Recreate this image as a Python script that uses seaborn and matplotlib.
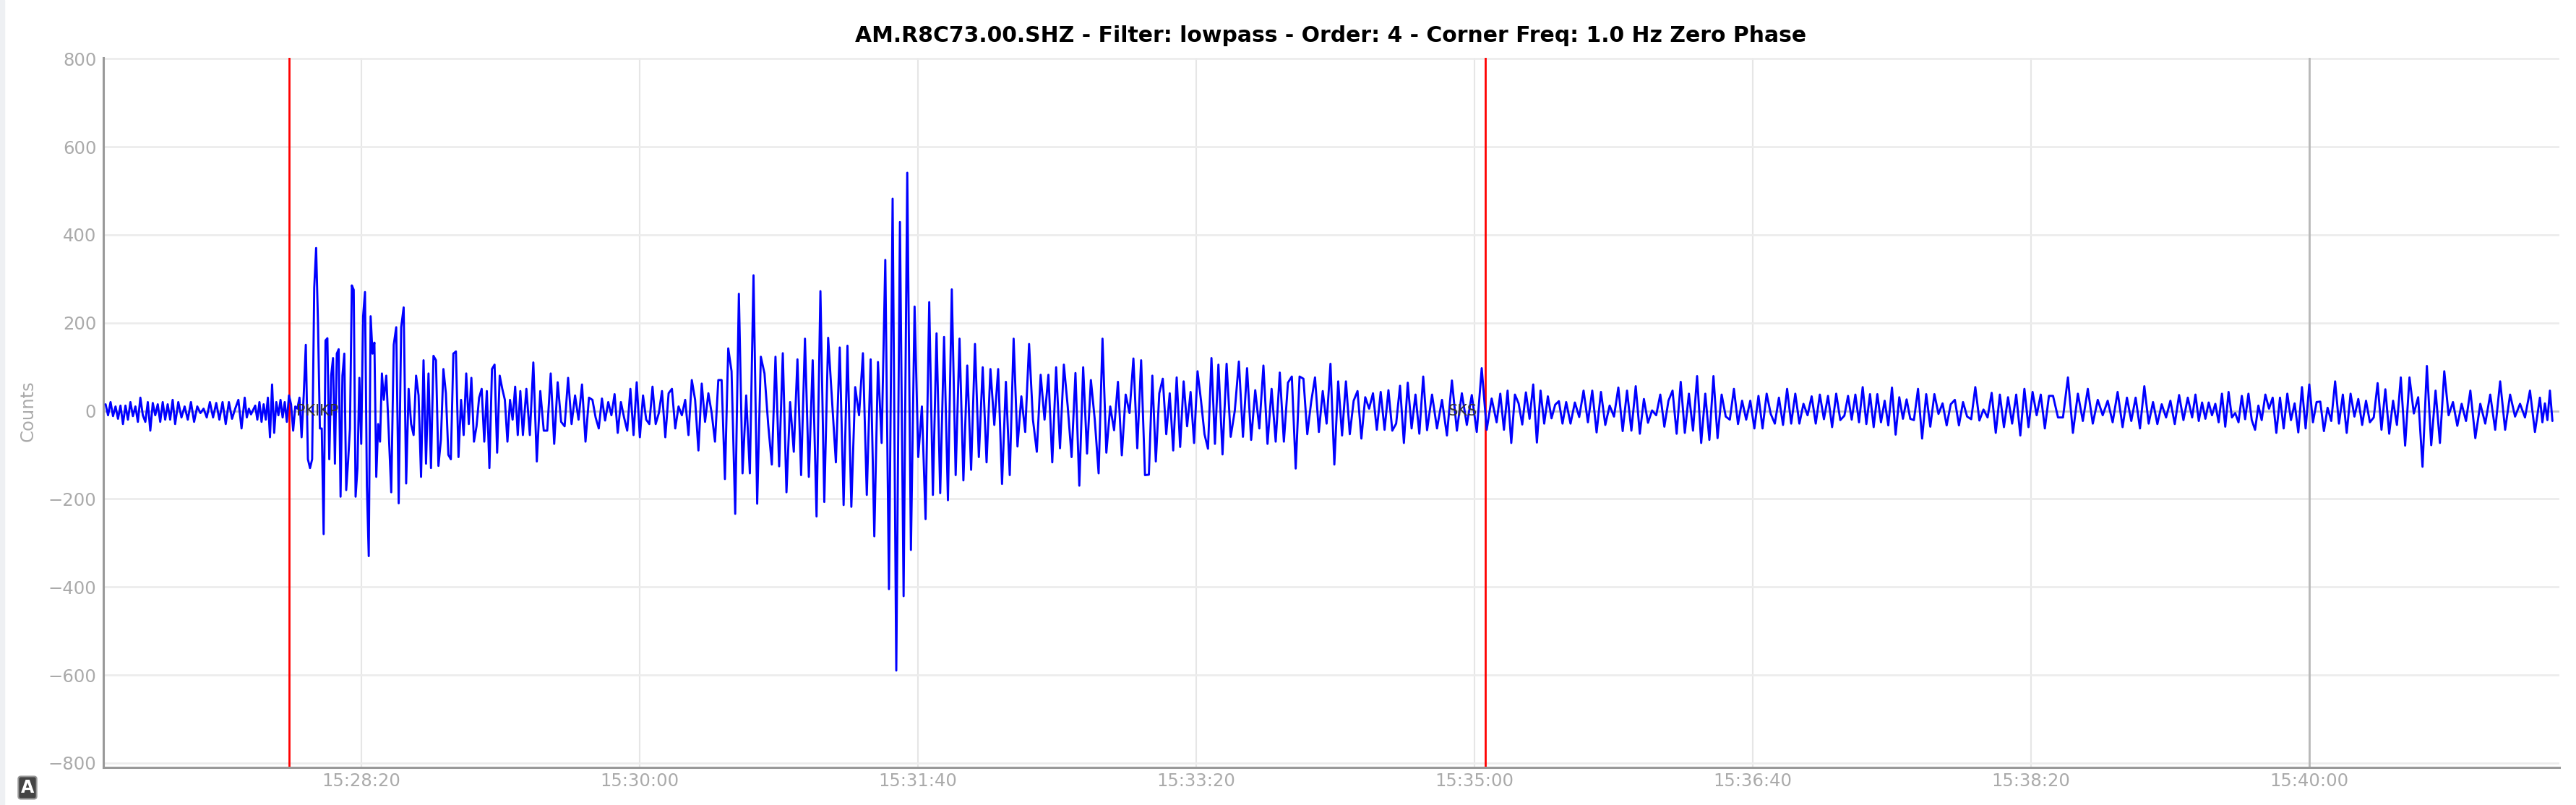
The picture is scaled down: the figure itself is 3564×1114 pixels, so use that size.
import numpy as np
import pandas as pd
import seaborn as sns
import matplotlib.pyplot as plt
from matplotlib.patches import Rectangle

# waveform, one list per 25 s, from 15:26:48
seg_00 = [15, -10, 20, -12, 10, -18, 12, -30, 12, -20, 20, -12, 10, -25, 30, -10, -25, 20, -45, 18, -10, 15, -25, 20, -20, 15, -20, 25]
seg_01 = [-30, 20, -15, 10, -20, 20, -25, 10, -5, 5, -15, 20, -15, 18, -20, 20, -30, 20, -18, 5, 25, -40]
seg_02 = [30, -15, 5, -8, 2, 12, -20, 20, -25, 15, -20, 30, -60, 60, -50, 20, -10, 25, -15, 20, -25, 35, 15, -45, 10, 5, 30, -60, 35, 150, -110, -130, -110]
seg_03 = [280, 370, 200, -40, -40, -280, 160, 165, -110, 80, 120, -120, 130, 140, -195, 80, 130, -180, -115, -40, 285, 275, -195, -130, 75, -75, 215, 270, -170, -330, 215, 130, 155, -150, -30, -70, 85]
seg_04 = [25, 80, -50, -185, 150, 190, -210, 190, 235, -165, 50, -30, -55, 80, 35, -150, 115, -120, 85, -130, 125, 115, -125, -65, 95, 40, -100, -110]
seg_05 = [130, 135, -105, 25, -55, 85, -30, 75, -70, -35, 30, 50, -70, 45, -130, 95, 105, -95, 80, 50, 25, -70, 25, -20, 55, -55, 45]
seg_06 = [-55, 50, -55, 110, -115, 45, -45, -45, 85, -75, 65, -25, -35, 75, -30, 35, -20, 60, -70, 30]
seg_07 = [25, -15, -40, 28, -22, 20, -10, 38, -50, 20, -15, -45, 50, -55, 65, -60, 35, -20, -30, 55, -30, -5]
seg_08 = [45, -60, 40, 50, -40, 10, -10, 25, -55, 70, 25, -90, 62, -25, 40, -5, -70, 70, 70, -155, 142]
seg_09 = [90, -234, 266, -142, 35, -142, 308, -211, 123, 85, -30, -122, 123, -126, 131, -185, 20, -93, 117]
seg_10 = [-146, 164, -150, 115, -240, 272, -207, 166, 25, -117, 144, -214, 148, -218, 54, -10, 131, -191]
seg_11 = [117, -285, 111, -73, 343, -405, 482, -590, 429, -421, 541, -316, 237, -105, 10, -246, 247, -191, 176]
seg_12 = [-187, 168, -203, 276, -146, 164, -158, 103, -134, 152, -105, 99, -117, 95, -32, 95, -166, 66]
seg_13 = [-146, 164, -81, 33, -48, 152, -20, -93, 82, -20, 82, -117, 99, -85, 105, 10, -105, 86]
seg_14 = [-170, 99, -97, 70, -20, -142, 164, -95, 10, -44, 66, -101, 37, -5, 119, -85, 115, -146]
seg_15 = [-145, 80, -115, 40, 73, -53, 40, -90, 76, -82, 67, -35, 43, -73, 90, 23, -53, -86, 120, -75]
seg_16 = [105, -99, 107, -59, 0, 112, -59, 97, -66, 47, -40, 103, -75, 50, -70, 87, -70]
seg_17 = [64, 78, -131, 78, 73, -53, 20, 76, -48, 45, -29, 107, -122, 67, -56, 67, -53, 23]
seg_18 = [45, -63, 31, 5, 40, -43, 43, -43, 47, -45, -29, 57, -73, 64, -40, 37, -52, 78]
seg_19 = [-44, 37, -40, 25, -56, 69, -45, 40, -32, 36, -48, 97, -43, 28]
seg_20 = [-26, 39, -43, 46, -73, 37, 17, -31, 42, -18, 60, -72, 46, -29, 33, -17, 14, 22, -29]
seg_21 = [20, -29, 19, -14, 46, -26, 46, -49, 43, -32, 12, -13, 53, -46, 46, -45]
seg_22 = [56, -52, 27, -27, 1, -10, 37, -36, 23, 46, -52, 66, -50, 39, -45, 79, -73]
seg_23 = [39, -66, 79, -62, 37, -13, -20, 50, -30, 23, -20, 23, -40, 34, -40, 39, -7]
seg_24 = [-29, 30, -32, 50, -29, 39, -29, 16, -10, 33, -29, 37, -19, 34, -37, 39, -21]
seg_25 = [-11, 34, -20, 37, -26, 54, -30, 38, -37, 38, -26, 23, -33, 53, -54, 31, -18, 26, -18]
seg_26 = [-21, 50, -63, 38, -36, 38, -7, 17, -33, 15, 25, -33, 20, -13, -19, 54, -22]
seg_27 = [3, -15, 41, -50, 37, -37, 31, -29, 37, -56, 50, -37, 43, -10, 37, -40, 34]
seg_28 = [34, -15, -15, 76, -50, 39, -23, 50, -29, 25, -10, 23, -26, 43]
seg_29 = [-37, 30, -23, 30, -40, 56, -29, 20, -30, 15, -15, 23, -30, 36, -21, 30]
seg_30 = [-15, 37, -23, 19, -18, 19, -10, 16, -26, 39, -36, 43, -15, -5, -26, 34, -19, 39, -21, -43, 12]
seg_31 = [-21, 37, 5, 30, -50, 30, -40, 39, -21, 17, -49, 54, -40, 60, -26, 20, 21, -46, 7]
seg_32 = [-23, 67, -29, 37, -50, 39, -13, 27, -32, 23, -26, -15, 63, -43, 49, -52, 23, -32]
seg_33 = [76, -79, 76, -6, 31, -127, 102, -78, 46, -73, 90, -10, 20, -34, 16, -23]
seg_34 = [46, -62, 16, -29, 37, -43, 67, -43, 37, -13, 16, -15, 46, -48]
seg_35 = [30, -26, 17, -21, 46, -23]

segments = [seg_00, seg_01, seg_02, seg_03, seg_04, seg_05, seg_06, seg_07, seg_08,
            seg_09, seg_10, seg_11, seg_12, seg_13, seg_14, seg_15, seg_16, seg_17,
            seg_18, seg_19, seg_20, seg_21, seg_22, seg_23, seg_24, seg_25, seg_26,
            seg_27, seg_28, seg_29, seg_30, seg_31, seg_32, seg_33, seg_34, seg_35]

trace_start = '15:26:48'
trace_end = '15:41:30'
seg_len = 25

time_ticks = ['15:28:20', '15:30:00', '15:31:40', '15:33:20', '15:35:00',
              '15:36:40', '15:38:20', '15:40:00']
count_ticks = [-800, -600, -400, -200, 0, 200, 400, 600, 800]
phase_names = ['PKIKP', 'SKS']
phase_times = ['15:27:54', '15:35:04']


def secs(label):
    return (pd.to_timedelta(label) - pd.to_timedelta(trace_start)).total_seconds()


# each list is spread evenly over its own 25 s
rows = []
for i, vals in enumerate(segments):
    t0 = i * seg_len
    t1 = min(t0 + seg_len, secs(trace_end) - 1.6) if i == len(segments) - 1 else t0 + seg_len
    rows.append(pd.DataFrame({'t': np.linspace(t0, t1, len(vals), endpoint=False), 'counts': vals}))
df = pd.concat(rows, ignore_index=True)

sns.set_theme(style='white')
plt.rcParams['font.family'] = ['DejaVu Sans']

fig = plt.figure(figsize=(35.64, 11.14), dpi=100)
ax = fig.add_axes([143 / 3564, 1 - 1062 / 1114, 3398 / 3564, 982 / 1114])

ax.axhline(0, color='#c4c4c4', linewidth=2, zorder=1.5)
ax.axvline(secs('15:40:00'), color='#b8b8b8', linewidth=2, zorder=1.5)
for ph in phase_times:
    ax.axvline(secs(ph), color='#ff0000', linewidth=2, zorder=2)

sns.lineplot(data=df, x='t', y='counts', color='#0000ff', linewidth=2.1,
             estimator=None, sort=False, ax=ax, zorder=3)

for name, ph in zip(phase_names, phase_times):
    ax.text(secs(ph) + (2.5 if name == 'PKIKP' else -13.5), 0, name, fontsize=15,
            color='#333333', va='center', ha='left', zorder=4)

ax.set_xlim(secs(trace_start) - 0.8, secs(trace_end))
ax.set_ylim(-810, 802)
ax.set_xticks([secs(t) for t in time_ticks], time_ticks)
ax.set_yticks(count_ticks)
ax.grid(axis='y', color='#ececec', linewidth=2)
ax.grid(axis='x', color='#e6e6e6', linewidth=1.5)
ax.set_axisbelow(True)
ax.tick_params(axis='both', length=0, labelsize=17.5, labelcolor='#aaaaaa')
ax.tick_params(axis='x', pad=5)
ax.tick_params(axis='y', pad=7)

sns.despine(ax=ax)
for side in ['left', 'bottom']:
    ax.spines[side].set_color('#999999')
    ax.spines[side].set_linewidth(2.2)

ax.set_xlabel('')
ax.set_ylabel('')
fig.text(39 / 3564, 1 - 569 / 1114, 'Counts', rotation=90, fontsize=17.5,
         color='#aaaaaa', ha='center', va='center')
fig.text(1841 / 3564, 1 - 49 / 1114, 'AM.R8C73.00.SHZ - Filter: lowpass - Order: 4 - Corner Freq: 1.0 Hz Zero Phase',
         fontsize=21.5, fontweight='bold', color='black', ha='center', va='center')

# page edge and the little badge bottom left
fig.add_artist(Rectangle((0, 0), 6 / 3564, 1, transform=fig.transFigure, color='#eef0f3', zorder=0))
fig.text(38 / 3564, 1 - 1090 / 1114, 'A', fontsize=17, fontweight='bold', color='white',
         ha='center', va='center',
         bbox=dict(boxstyle='round,pad=0.15', fc='#444444', ec='#999999', lw=1.5))

fig.savefig('out.png', dpi=100)
